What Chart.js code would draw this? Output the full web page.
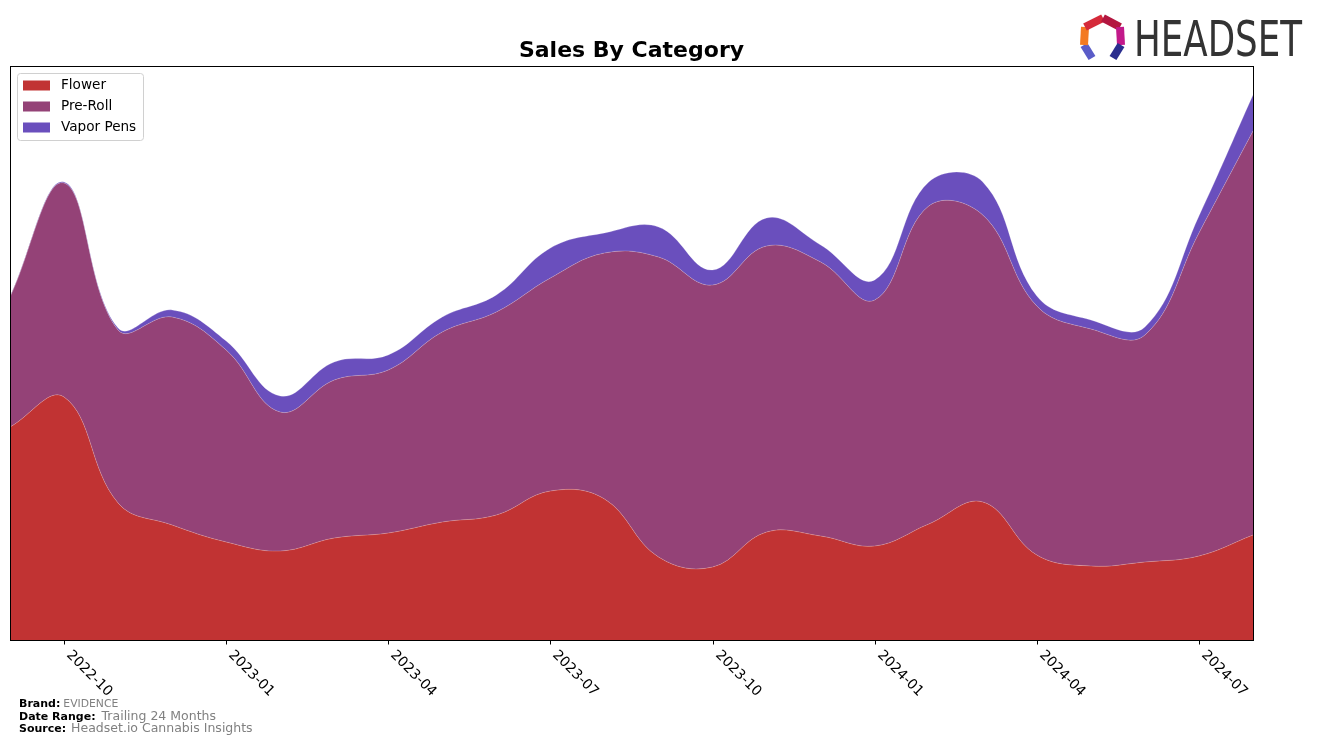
<!DOCTYPE html>
<html>
<head>
<meta charset="utf-8">
<script src="https://cdn.jsdelivr.net/npm/chart.js@4.4.1/dist/chart.umd.min.js"></script>
<style>
  html, body { margin: 0; padding: 0; background: #ffffff; }
  #wrap { width: 1317px; height: 745px; position: relative; }
</style>
</head>
<body>
<div id="wrap"><canvas id="c" width="1317" height="745"></canvas></div>
<script>
// ---- data (arbitrary sales units) ----
const months = ['2022-09','2022-10','2022-11','2022-12','2023-01','2023-02','2023-03','2023-04',
                '2023-05','2023-06','2023-07','2023-08','2023-09','2023-10','2023-11','2023-12',
                '2024-01','2024-02','2024-03','2024-04','2024-05','2024-06','2024-07','2024-08'];
const flower    = [213, 243, 137, 115, 98, 89, 102, 107, 118, 125, 149, 141, 83, 73, 108, 104, 94, 116, 138, 85, 74, 78, 84, 105];
const preRoll   = [130, 214, 173, 208, 192, 139, 158, 163, 190, 203, 213, 246, 300, 282, 286, 274, 246, 318, 287, 249, 237, 227, 323, 404];
const vaporPens = [0.5, 1, 2, 7, 9, 16, 18, 15, 15, 17, 30, 20, 30, 15, 28, 17, 20, 24, 33, 10, 9, 8, 17, 36];
const tickLabels = ['2022-10','2023-01','2023-04','2023-07','2023-10','2024-01','2024-04','2024-07'];
const seriesNames = ['Flower', 'Pre-Roll', 'Vapor Pens'];
const seriesColors = ['#c13333', '#944277', '#6a4fbd'];
const titleText = 'Sales By Category';
const footer = [
  ['Brand:', 'EVIDENCE'],
  ['Date Range:', 'Trailing 24 Months'],
  ['Source:', 'Headset.io Cannabis Insights']
];

const FONT = '"DejaVu Sans", "Liberation Sans", sans-serif';

const decor = {
  id: 'decor',
  afterDraw(chart) {
    const ctx = chart.ctx;
    const a = chart.chartArea;
    const xs = chart.scales.x;
    ctx.save();
    // frame
    ctx.strokeStyle = '#000';
    ctx.lineWidth = 1;
    ctx.strokeRect(Math.round(a.left) + 0.5, Math.round(a.top) + 0.5,
                   Math.round(a.right - a.left), Math.round(a.bottom - a.top));
    // ticks + rotated labels
    ctx.fillStyle = '#000';
    ctx.font = '14px ' + FONT;
    ctx.textAlign = 'left';
    ctx.textBaseline = 'top';
    tickLabels.forEach(lbl => {
      const idx = months.indexOf(lbl);
      const px = Math.round(xs.getPixelForValue(idx)) + 0.5;
      ctx.beginPath();
      ctx.moveTo(px, a.bottom);
      ctx.lineTo(px, a.bottom + 4.5);
      ctx.stroke();
      ctx.save();
      ctx.translate(px + 9, a.bottom + 8);
      ctx.rotate(Math.PI / 4);
      ctx.fillText(lbl, 0, 0);
      ctx.restore();
    });
    // title
    ctx.font = 'bold 22px ' + FONT;
    ctx.textAlign = 'center';
    ctx.textBaseline = 'middle';
    ctx.fillText(titleText, (a.left + a.right) / 2, 51);
    // legend
    const lx = 17, ly = 73, lw = 126, lh = 67;
    ctx.fillStyle = 'rgba(255,255,255,0.8)';
    ctx.strokeStyle = '#d0d0d0';
    ctx.lineWidth = 1;
    ctx.beginPath();
    ctx.roundRect(lx + 0.5, ly + 0.5, lw, lh, 3);
    ctx.fill();
    ctx.stroke();
    ctx.font = '13.6px ' + FONT;
    ctx.textAlign = 'left';
    ctx.textBaseline = 'middle';
    seriesNames.forEach((n, i) => {
      const cy = 85.5 + i * 21;
      ctx.fillStyle = seriesColors[i];
      ctx.fillRect(23, cy - 5, 27, 10);
      ctx.fillStyle = '#000';
      ctx.fillText(n, 61, cy);
    });
    // footer
    ctx.textBaseline = 'alphabetic';
    const fy = [707, 720, 732];
    const vs = [10.8, 12.5, 12.5];
    const gap = [3, 6, 5];
    footer.forEach((f, i) => {
      ctx.font = 'bold 11px ' + FONT;
      ctx.fillStyle = '#000';
      ctx.fillText(f[0], 19, fy[i]);
      const w = ctx.measureText(f[0]).width;
      ctx.font = vs[i] + 'px ' + FONT;
      ctx.fillStyle = '#808080';
      ctx.fillText(f[1], 19 + w + gap[i], fy[i]);
    });
    // logo icon
    const segs = [
      [[1092, 58], [1084, 45], '#5a5cc8'],
      [[1084, 45], [1085, 27], '#f37a22'],
      [[1085, 27], [1103, 18], '#d52a3a'],
      [[1103, 18], [1120, 27], '#b3163f'],
      [[1120, 27], [1121, 45], '#c2198a'],
      [[1121, 45], [1113, 58], '#2a2d8e']
    ];
    ctx.lineWidth = 8;
    ctx.lineCap = 'butt';
    ctx.lineJoin = 'miter';
    segs.forEach(s => {
      ctx.strokeStyle = s[2];
      ctx.beginPath();
      ctx.moveTo(s[0][0], s[0][1]);
      ctx.lineTo(s[1][0], s[1][1]);
      ctx.stroke();
    });
    // logo text
    ctx.save();
    ctx.fillStyle = '#333333';
    ctx.font = '50px ' + FONT;
    ctx.textAlign = 'left';
    ctx.textBaseline = 'alphabetic';
    const tw = ctx.measureText('HEADSET').width;
    ctx.translate(1134, 56);
    ctx.scale(168 / tw, 1);
    ctx.fillText('HEADSET', 0, 0);
    ctx.restore();
    ctx.restore();
  }
};

const datasets = [flower, preRoll, vaporPens].map((d, i) => ({
  label: seriesNames[i],
  data: d,
  backgroundColor: seriesColors[i],
  borderColor: 'rgba(255,255,255,0.3)',
  borderWidth: 0.7,
  pointRadius: 0,
  tension: 0.4,
  fill: i === 0 ? 'origin' : '-1'
}));

new Chart(document.getElementById('c'), {
  type: 'line',
  data: { labels: months, datasets },
  options: {
    responsive: false,
    animation: false,
    layout: { padding: { left: 10, top: 66, right: 64, bottom: 105 } },
    plugins: { legend: { display: false }, title: { display: false }, tooltip: { enabled: false } },
    scales: {
      x: { type: 'category', offset: false, display: false },
      y: { stacked: true, min: 0, max: 574, display: false }
    }
  },
  plugins: [decor]
});
</script>
</body>
</html>
